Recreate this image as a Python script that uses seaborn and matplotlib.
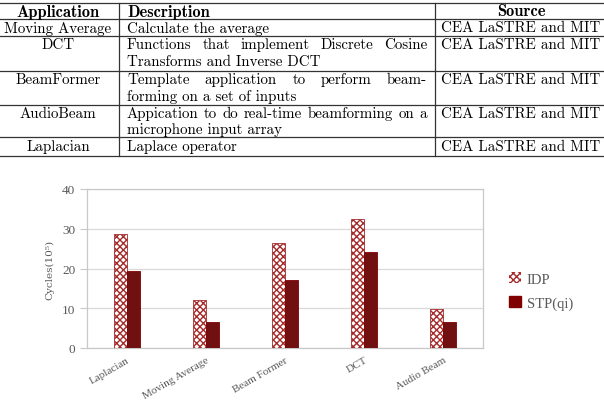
import matplotlib
matplotlib.use('Agg')
import matplotlib.pyplot as plt
import seaborn as sns
import pandas as pd
from matplotlib.lines import Line2D
from matplotlib.patches import Patch

# Table contents
header = ['Application', 'Description', 'Source']
table_apps = ['Moving Average', 'DCT', 'BeamFormer', 'AudioBeam', 'Laplacian']
table_desc = [
    ['Calculate the average'],
    ['Functions that implement Discrete Cosine', 'Transforms and Inverse DCT'],
    ['Template application to perform beam-', 'forming on a set of inputs'],
    ['Appication to do real-time beamforming on a', 'microphone input array'],
    ['Laplace operator'],
]
table_source = 'CEA LaSTRE and MIT'

# Chart data
apps = ['Laplacian', 'Moving Average', 'Beam Former', 'DCT', 'Audio Beam']
idp = [28.7, 12.1, 26.4, 32.4, 9.9]
stp = [19.4, 6.6, 17.2, 24.2, 6.5]

W, H = 604, 402
fig = plt.figure(figsize=(W / 100, H / 100), dpi=100)

def fx(px):
    return px / W

def fy(py):
    return 1 - py / H

# ---- table ----
line_kw = dict(color='#333333', linewidth=0.9)
for y in [4, 20, 37, 72, 106, 138, 157]:
    fig.add_artist(Line2D([0, 1], [fy(y), fy(y)], **line_kw))
for x in [119, 435]:
    fig.add_artist(Line2D([fx(x), fx(x)], [fy(4), fy(157)], **line_kw))

tsize = 10.8
hsize = 11.8
col1, left, right, col3 = 58, 127, 427, 521
fig.text(fx(col1), fy(12), header[0], ha='center', va='center', family='cmb10', size=hsize)
fig.text(fx(left), fy(12), header[1], ha='left', va='center', family='cmb10', size=hsize)
fig.text(fx(col3), fy(12), header[2], ha='center', va='center', family='cmb10', size=hsize)

row_y = [[28.5], [45, 62], [80, 97], [114, 130], [147]]
renderer = fig.canvas.get_renderer()
for app, desc, ys in zip(table_apps, table_desc, row_y):
    fig.text(fx(col1), fy(ys[0]), app, ha='center', va='center', family='cmr10', size=tsize)
    fig.text(fx(col3), fy(ys[0]), table_source, ha='center', va='center', family='cmr10', size=tsize)
    for i, (line, y) in enumerate(zip(desc, ys)):
        justify = len(desc) > 1 and i < len(desc) - 1
        if not justify:
            fig.text(fx(left), fy(y), line, ha='left', va='center', family='cmr10', size=tsize)
            continue
        # spread the words so the line fills the column, like LaTeX does
        words = line.split(' ')
        arts = [fig.text(0, fy(y), w, ha='left', va='center', family='cmr10', size=tsize) for w in words]
        widths = [a.get_window_extent(renderer).width for a in arts]
        gap = (right - left - sum(widths)) / (len(words) - 1)
        x = left
        for a, w in zip(arts, widths):
            a.set_x(fx(x))
            x += w + gap

# ---- chart ----
df = pd.DataFrame({
    'app': apps * 2,
    'cycles': idp + stp,
    'type': ['IDP'] * len(apps) + ['STP(qi)'] * len(apps),
})

ax = fig.add_axes([fx(87), fy(349), fx(483) - fx(87), fy(190) - fy(349)])
sns.barplot(data=df, x='app', y='cycles', hue='type', order=apps,
            palette={'IDP': 'white', 'STP(qi)': '#800000'},
            width=0.33, gap=0, ax=ax, legend=False, zorder=3)

dark = '#800000'
for bar in ax.containers[0]:
    bar.set_hatch('xxxxx')
    bar.set_edgecolor('#a52a2a')
    bar.set_linewidth(0.6)
for bar in ax.containers[1]:
    bar.set_edgecolor(dark)
    bar.set_linewidth(0.6)

ax.set_xlim(-0.5, 4.5)
ax.set_ylim(0, 40)
ax.set_yticks([0, 10, 20, 30, 40])
ax.grid(axis='y', color='#d9d9d9', linewidth=0.9, zorder=0)
ax.set_axisbelow(True)
for s in ax.spines.values():
    s.set_color('#c8c8c8')
    s.set_linewidth(0.9)

gray = '#595959'
ax.tick_params(axis='y', colors='#c8c8c8', labelcolor=gray, length=5, labelsize=9.5)
ax.tick_params(axis='x', length=0, labelcolor=gray, labelsize=8, pad=5)
for lab in ax.get_yticklabels():
    lab.set_family('Liberation Serif')
for lab in ax.get_xticklabels():
    lab.set_family('Liberation Serif')
    lab.set_rotation(30)
    lab.set_ha('right')
    lab.set_rotation_mode('anchor')

ax.set_xlabel('')
ax.set_ylabel('Cycles(10⁵)', family='DejaVu Serif', size=7.5, color=gray, labelpad=5)

handles = [Patch(facecolor='white', edgecolor='#a52a2a', hatch='xxxxx', linewidth=0),
           Patch(facecolor=dark, edgecolor=dark)]
fig.legend(handles, ['IDP', 'STP(qi)'], loc='center left', bbox_to_anchor=(fx(496), fy(292)),
           frameon=False, handlelength=0.8, handleheight=0.8, handletextpad=0.4,
           labelspacing=0.7, prop={'family': 'Liberation Serif', 'size': 10.5}, labelcolor=gray)

fig.savefig('out.png', dpi=100)
